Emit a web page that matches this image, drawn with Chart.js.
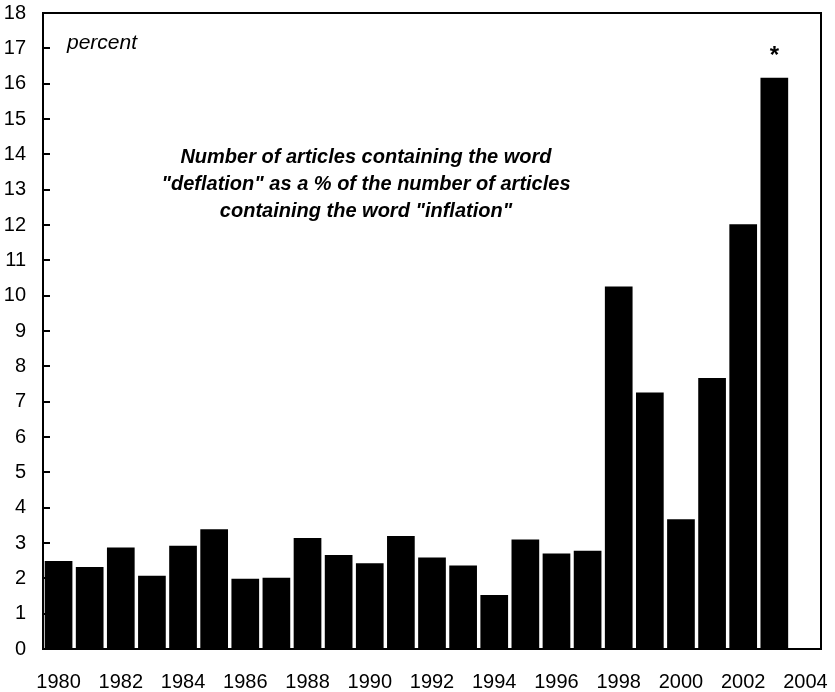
<!DOCTYPE html>
<html>
<head>
<meta charset="utf-8">
<script src="https://cdn.jsdelivr.net/npm/chart.js@4.4.1/dist/chart.umd.min.js"></script>
<style>
html,body{margin:0;padding:0;background:#fff;}
#wrap{width:835px;height:692px;}
</style>
</head>
<body>
<div id="wrap"><canvas id="c" width="835" height="692"></canvas></div>
<script>
const years = ['1980','1981','1982','1983','1984','1985','1986','1987','1988','1989','1990','1991','1992','1993','1994','1995','1996','1997','1998','1999','2000','2001','2002','2003','2004'];
const deflationShare = [2.49,2.32,2.87,2.07,2.92,3.39,1.99,2.02,3.14,2.66,2.43,3.20,2.59,2.36,1.53,3.10,2.70,2.78,10.26,7.26,3.67,7.67,12.02,16.17,null];
const yTicks = [0,1,2,3,4,5,6,7,8,9,10,11,12,13,14,15,16,17,18];
const unitLabel = 'percent';
const noteLines = ['Number of articles containing the word','"deflation" as a % of the number of articles','containing the word "inflation"'];
const starYear = '2003';

const FONT = '"Liberation Sans", Arial, Helvetica, sans-serif';

function zeroPad(s) {
  s.paddingTop = 0; s.paddingBottom = 0; s.paddingLeft = 0; s.paddingRight = 0;
}

const decor = {
  id: 'decor',
  afterDraw(chart) {
    const ctx = chart.ctx;
    const a = chart.chartArea;
    const ys = chart.scales.y, xs = chart.scales.x;
    ctx.save();
    ctx.strokeStyle = '#000';
    ctx.lineWidth = 2;
    ctx.strokeRect(a.left, a.top, a.right - a.left, a.bottom - a.top);
    yTicks.forEach(v => {
      const py = Math.round(ys.getPixelForValue(v));
      ctx.beginPath();
      ctx.moveTo(a.left, py);
      ctx.lineTo(a.left + 7, py);
      ctx.stroke();
    });
    ctx.fillStyle = '#000';
    ctx.textBaseline = 'middle';
    ctx.textAlign = 'left';
    ctx.font = 'italic 21px ' + FONT;
    ctx.fillText(unitLabel, 67, 43);
    ctx.textAlign = 'center';
    ctx.font = 'italic bold 20px ' + FONT;
    noteLines.forEach((t, i) => ctx.fillText(t, 366, 157 + i * 27));
    const idx = years.indexOf(starYear);
    const sx = xs.getPixelForValue(idx);
    const sy = ys.getPixelForValue(deflationShare[idx]);
    ctx.font = 'bold 24px ' + FONT;
    ctx.fillText('*', sx, sy - 21);
    ctx.restore();
  }
};

new Chart(document.getElementById('c'), {
  type: 'bar',
  data: {
    labels: years,
    datasets: [{
      data: deflationShare,
      backgroundColor: '#000',
      borderWidth: 0,
      barPercentage: 0.89,
      categoryPercentage: 1.0
    }]
  },
  options: {
    responsive: false,
    animation: false,
    devicePixelRatio: 1,
    layout: { padding: { top: 13, right: 14, left: 0, bottom: 0 } },
    plugins: { legend: { display: false }, tooltip: { enabled: false } },
    scales: {
      x: {
        grid: { display: false, drawTicks: false },
        border: { display: false },
        ticks: {
          autoSkip: false, maxRotation: 0, minRotation: 0, padding: 21,
          color: '#000', font: { family: FONT, size: 20 },
          callback: function(v, i) { return i % 2 === 0 ? years[i] : ''; }
        },
        afterFit(s) { s.height = 43; zeroPad(s); }
      },
      y: {
        min: 0, max: 18,
        grid: { display: false, drawTicks: false },
        border: { display: false },
        ticks: {
          stepSize: 1, padding: 17, color: '#000',
          font: { family: FONT, size: 20 }
        },
        afterBuildTicks(s) { s.ticks = yTicks.map(v => ({ value: v })); },
        afterFit(s) { s.width = 43; zeroPad(s); }
      }
    }
  },
  plugins: [decor]
});
</script>
</body>
</html>
